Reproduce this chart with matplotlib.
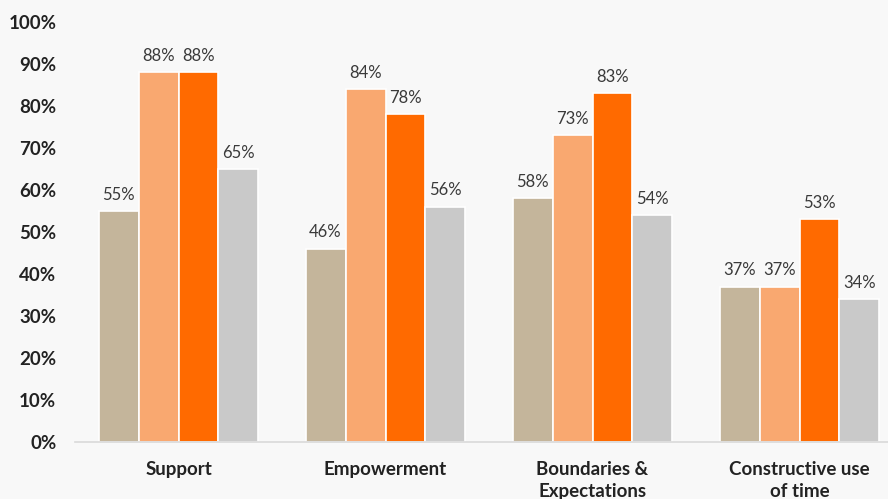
import matplotlib
matplotlib.use('Agg')
import matplotlib.pyplot as plt
import numpy as np

# 数据
categories = ["Support", "Empowerment", "Boundaries &\nExpectations", "Constructive use\nof time"]
series_a = [55, 46, 58, 37]
series_b = [88, 84, 73, 37]
series_c = [88, 78, 83, 53]
series_d = [65, 56, 54, 34]
yticks = [0, 10, 20, 30, 40, 50, 60, 70, 80, 90, 100]

colors = ["#C4B59B", "#F9A870", "#FF6A00", "#C9C9C9"]
bg = "#F8F8F8"

plt.rcParams['font.family'] = ['Lato', 'DejaVu Sans']

fig = plt.figure(figsize=(8.88, 4.99), dpi=100, facecolor=bg)
ax = fig.add_axes([75 / 888, 57 / 499, 828 / 888, 420 / 499], facecolor=bg)

x = np.arange(len(categories))
step = 0.193
width = 0.193
for i, (vals, col) in enumerate(zip([series_a, series_b, series_c, series_d], colors)):
    pos = x + (i - 1.5) * step
    bars = ax.bar(pos, vals, width=width, color=col, edgecolor="white", linewidth=1.2)
    for b, v in zip(bars, vals):
        ax.annotate(f"{v}%", (b.get_x() + b.get_width() / 2, v),
                    xytext=(0, 6), textcoords="offset points",
                    ha="center", va="bottom", fontsize=12, color="#3A3A3A")

ax.set_xlim(-0.5, 3.5)
ax.set_ylim(0, 100)
ax.set_yticks(yticks)
ax.set_yticklabels([f"{t}%" for t in yticks], fontsize=13.5, fontweight="bold", color="#222222")
ax.set_xticks(x)
ax.set_xticklabels(categories, fontsize=13.5, fontweight="bold", color="#222222", va="top",
                   linespacing=1.4)
ax.tick_params(axis="both", length=0)
ax.tick_params(axis="x", pad=13.5)
ax.tick_params(axis="y", pad=13.5)

for s in ["top", "right", "left"]:
    ax.spines[s].set_visible(False)
ax.spines["bottom"].set_color("#D9D9D9")
ax.spines["bottom"].set_linewidth(1.2)

fig.savefig("out.png", dpi=100, facecolor=bg)
